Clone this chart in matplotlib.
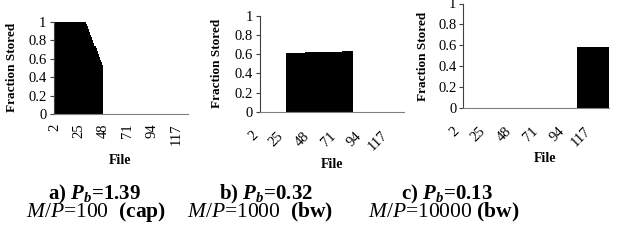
import matplotlib
matplotlib.use("Agg")
import matplotlib.pyplot as plt
import numpy as np

plt.rcParams['font.family'] = ['Liberation Serif', 'DejaVu Serif']
plt.rcParams['mathtext.fontset'] = 'custom'
plt.rcParams['mathtext.rm'] = 'Liberation Serif'
plt.rcParams['mathtext.it'] = 'Liberation Serif:italic'
plt.rcParams['mathtext.bf'] = 'Liberation Serif:bold'
plt.rcParams['mathtext.bfit'] = 'Liberation Serif:italic:bold'

# ---- data ----
n_files = 128
files = list(range(1, n_files + 1))
tick_files = [2, 25, 48, 71, 94, 117]

# panel a: files 1..47 stored, rest 0
a_nonzero = [1.0] * 31 + [0.98, 0.95, 0.92, 0.89, 0.86, 0.83, 0.80, 0.77,
                          0.74, 0.71, 0.68, 0.65, 0.62, 0.59, 0.56, 0.53]
a_values = a_nonzero + [0.0] * (n_files - len(a_nonzero))

# panel b: files 24..83 stored
b_nonzero = [0.615] * 17 + [0.625] * 33 + [0.63] * 10
b_values = [0.0] * 23 + b_nonzero + [0.0] * (n_files - 23 - len(b_nonzero))

# panel c: files 101..128 stored
c_nonzero = [0.585] * 28
c_values = [0.0] * (n_files - len(c_nonzero)) + c_nonzero

panels = [a_values, b_values, c_values]
captions1 = [r"a) $\mathbfit{P_b}$=1.39", r"b) $\mathbfit{P_b}$=0.32", r"c) $\mathbfit{P_b}$=0.13"]
captions2 = [r"$\mathit{M/P}$=100  $\mathbf{(cap)}$", r"$\mathit{M/P}$=1000  $\mathbf{(bw)}$",
             r"$\mathit{M/P}$=10000 $\mathbf{(bw)}$"]

W, H = 620, 248
PX2PT = 0.72
fig = plt.figure(figsize=(W / 100, H / 100), dpi=100)

# axes boxes in pixels: left, right, top, bottom
boxes = [(53.5, 188, 21.7, 114), (260, 404, 16, 111.7), (463.3, 609.3, 3.5, 108.3)]
ylabel_x = [12, 216.7, 423]
xlabel_y = [161, 165, 158]
xlabel_x = [120, 331.7, 545]
cap_x1 = [95, 265.7, 447]
cap_x2 = [95.7, 260, 444]
# label anchor offsets (px) for 45-degree labels
lab_dx = [None, -10.5, -12.5]
lab_dy = [None, -17.5, -16.5]

for i, vals in enumerate(panels):
    l, r, t, b = boxes[i]
    ax = fig.add_axes([l / W, 1 - b / H, (r - l) / W, (b - t) / H])
    x = np.arange(len(files))
    ax.bar(x, vals, width=1.0, color='black', edgecolor='none')
    ax.set_xlim(-0.5, len(files) - 0.5)
    ax.set_ylim(0, 1)
    ax.set_yticks([0, 0.2, 0.4, 0.6, 0.8, 1])
    ax.set_yticklabels(['0', '0.2', '0.4', '0.6', '0.8', '1'], fontsize=10.5)
    tick_pos = [files.index(f) for f in tick_files]
    ax.set_xticks(tick_pos)
    if i == 0:
        ax.set_xticklabels([str(f) for f in tick_files], rotation=90, fontsize=10.5,
                           ha='center', va='top')
        ax.tick_params(axis='x', length=0, pad=7)
    else:
        ax.set_xticklabels([])
        ax.tick_params(axis='x', length=0)
        for p, f in zip(tick_pos, tick_files):
            ax.annotate(str(f), xy=(p, 0), xycoords=('data', 'axes fraction'),
                        xytext=(lab_dx[i] * PX2PT, lab_dy[i] * PX2PT),
                        textcoords='offset points', rotation=45, fontsize=10.5,
                        ha='right', va='top', rotation_mode='anchor',
                        annotation_clip=False)
    ax.tick_params(axis='y', length=3, width=0.8, color='#404040', pad=2)
    for s in ['top', 'right']:
        ax.spines[s].set_visible(False)
    ax.spines['left'].set_color('#404040')
    ax.spines['bottom'].set_color('#808080')
    ax.set_facecolor('none')
    fig.text(ylabel_x[i] / W, 1 - ((t + b) / 2) / H, 'Fraction Stored', rotation=90,
             fontsize=9.5, fontweight='bold', ha='center', va='center')
    fig.text(xlabel_x[i] / W, 1 - xlabel_y[i] / H, 'File', fontsize=10,
             fontweight='bold', ha='center', va='center')
    fig.text(cap_x1[i] / W, 1 - 199 / H, captions1[i], fontsize=15,
             fontweight='bold', ha='center', va='baseline')
    fig.text(cap_x2[i] / W, 1 - 217.5 / H, captions2[i], fontsize=15.5,
             ha='center', va='baseline')

fig.savefig('out.png', dpi=100)
